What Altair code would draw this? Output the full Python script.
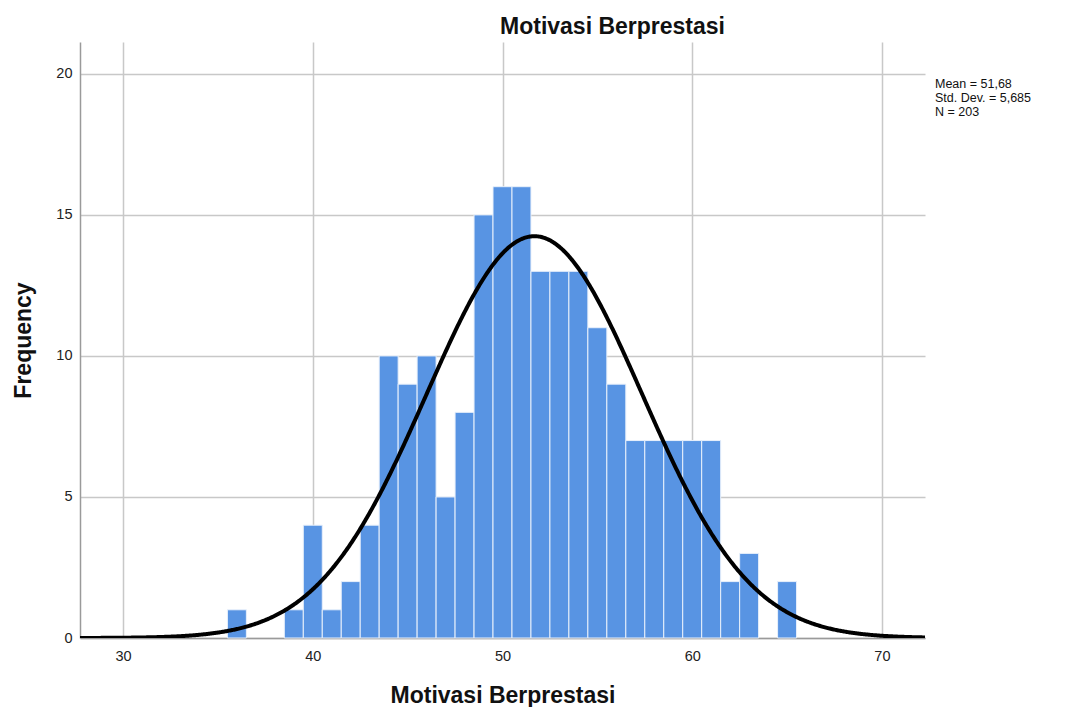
import altair as alt
import pandas as pd

# Histogram bins (bin centers, width 1) and frequencies
bin_centers = list(range(36, 66))
counts = [1, 0, 0, 1, 4, 1, 2, 4, 10, 9,
          10, 5, 8, 15, 16, 16, 13, 13, 13, 11,
          9, 7, 7, 7, 7, 7, 2, 3, 0, 2]

# Summary statistics shown in the chart
mean_val = 51.68
sd_val = 5.685
n_val = 203
stat_lines = ["Mean = 51,68", "Std. Dev. = 5,685", "N = 203"]

x_ticks = [30, 40, 50, 60, 70]
y_ticks = [0, 5, 10, 15, 20]
x_domain = [27.73, 72.27]
y_domain = [0, 21.13]

FONT = "Liberation Sans"

hist_df = pd.DataFrame({"center": bin_centers, "count": counts})
hist_df = hist_df[hist_df["count"] > 0]

x_scale = alt.Scale(domain=x_domain, nice=False, zero=False)
y_scale = alt.Scale(domain=y_domain, nice=False)

bars = alt.Chart(hist_df).transform_calculate(
    lo="datum.center - 0.5", hi="datum.center + 0.5"
).mark_rect(color="#5894E3", stroke="#E8F0FB", strokeWidth=1).encode(
    x=alt.X("lo:Q", scale=x_scale,
            axis=alt.Axis(values=x_ticks, title="Motivasi Berprestasi", grid=True)),
    x2="hi:Q",
    y=alt.Y("count:Q", scale=y_scale,
            axis=alt.Axis(values=y_ticks, title="Frequency", grid=True)),
    y2=alt.datum(0),
)

curve = alt.Chart(alt.sequence(27.7, 72.35, 0.05, as_="v")).transform_calculate(
    dens=f"{n_val} * exp(-0.5 * pow((datum.v - {mean_val}) / {sd_val}, 2)) / ({sd_val} * sqrt(2 * PI))"
).mark_line(color="black", strokeWidth=4, clip=True).encode(
    x=alt.X("v:Q", scale=x_scale),
    y=alt.Y("dens:Q", scale=y_scale),
)

texts = []
for i, line in enumerate(stat_lines):
    texts.append(
        alt.Chart(alt.Data(values=[{}])).mark_text(
            text=line, align="left", baseline="middle", fontSize=12.5, font=FONT, color="#111"
        ).encode(x=alt.value(855), y=alt.value(42 + 14 * i))
    )

chart = alt.layer(bars, curve, *texts).properties(
    width=845,
    height=596,
    autosize="none",
    padding={"left": 72, "top": 34, "right": 134, "bottom": 69},
    title=alt.Title("Motivasi Berprestasi", fontSize=23, fontWeight="bold", font=FONT,
                    anchor="middle", dx=110, offset=3, color="#111"),
).configure_view(stroke=None).configure_axis(
    gridColor="#C8C8C8", gridWidth=1.5,
    domainColor="#9A9A9A", domainWidth=1.5,
    ticks=False,
    labelFont=FONT, labelFontSize=14.5, labelColor="#222",
    titleFont=FONT, titleFontSize=23, titleFontWeight="bold", titleColor="#111",
).configure_axisX(labelPadding=11, titlePadding=22).configure_axisY(labelPadding=8, titlePadding=20)

chart.save("out.html", embed_options={"renderer": "svg", "actions": False})
